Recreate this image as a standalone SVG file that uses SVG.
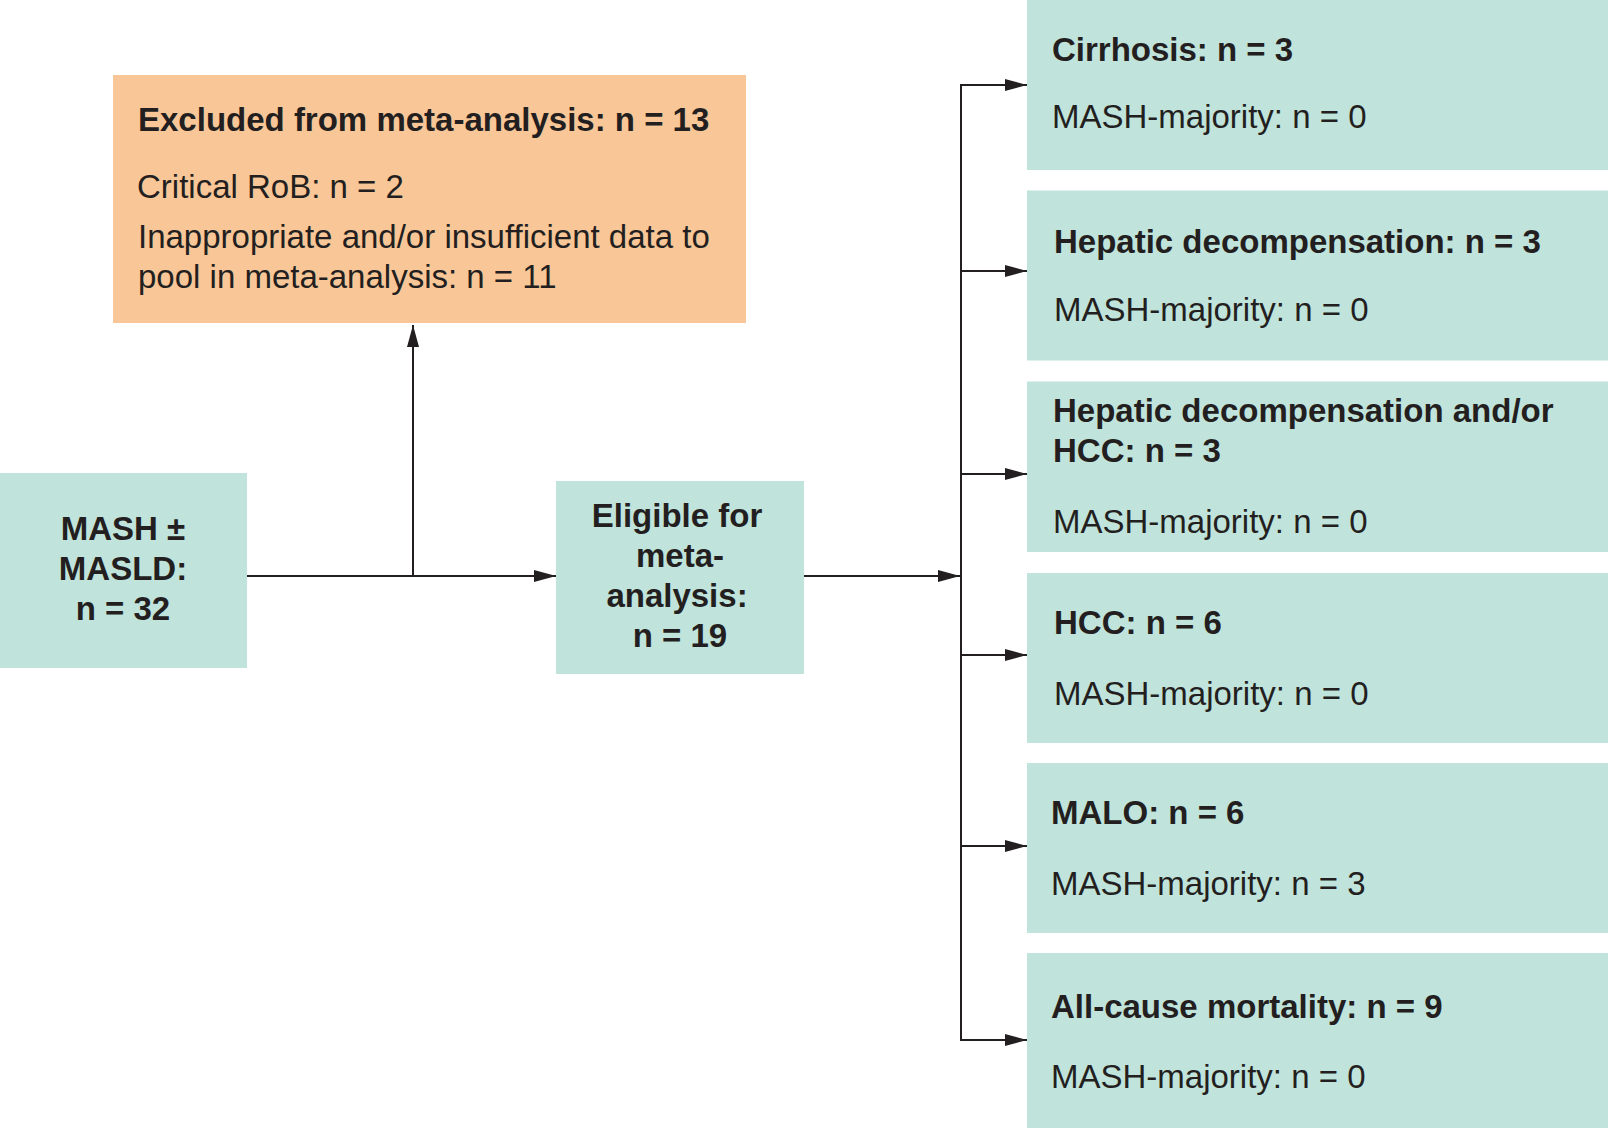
<svg xmlns="http://www.w3.org/2000/svg" width="1608" height="1128" viewBox="0 0 1608 1128">
<style>
.teal{fill:#c0e3dc}
.orange{fill:#f8c697}
text{font-family:"Liberation Sans",Arial,sans-serif;font-size:33px;fill:#231f20}
.b{font-weight:bold}
.c{text-anchor:middle}
.conn{stroke:#231f20;stroke-width:2;fill:none}
</style>
<defs>
<marker id="arr" markerUnits="userSpaceOnUse" markerWidth="22" markerHeight="12" refX="22" refY="6" orient="auto">
<path d="M0,0 L22,6 L0,12 z" fill="#231f20"/>
</marker>
</defs>
<rect width="1608" height="1128" fill="#ffffff"/>

<g id="connectors">
<line class="conn" x1="247" y1="576" x2="556" y2="576" marker-end="url(#arr)"/>
<line class="conn" x1="413" y1="577" x2="413" y2="325" marker-end="url(#arr)"/>
<line class="conn" x1="804" y1="576" x2="960" y2="576" marker-end="url(#arr)"/>
<line class="conn" x1="961" y1="84" x2="961" y2="1041"/>
<line class="conn" x1="960" y1="85" x2="1027" y2="85" marker-end="url(#arr)"/>
<line class="conn" x1="960" y1="271" x2="1027" y2="271" marker-end="url(#arr)"/>
<line class="conn" x1="960" y1="474" x2="1027" y2="474" marker-end="url(#arr)"/>
<line class="conn" x1="960" y1="655" x2="1027" y2="655" marker-end="url(#arr)"/>
<line class="conn" x1="960" y1="846" x2="1027" y2="846" marker-end="url(#arr)"/>
<line class="conn" x1="960" y1="1040" x2="1027" y2="1040" marker-end="url(#arr)"/>
</g>

<g id="excluded">
<rect class="orange" x="113" y="75" width="633" height="248"/>
<text class="b" x="138" y="131">Excluded from meta-analysis: n = 13</text>
<text x="137" y="198">Critical RoB: n = 2</text>
<text x="138" y="248">Inappropriate and/or insufficient data to</text>
<text x="138" y="288">pool in meta-analysis: n = 11</text>
</g>

<g id="mash">
<rect class="teal" x="0" y="473" width="247" height="195"/>
<text class="b c" x="123" y="540">MASH ±</text>
<text class="b c" x="123" y="580">MASLD:</text>
<text class="b c" x="123" y="620">n = 32</text>
</g>

<g id="eligible">
<rect class="teal" x="556" y="481" width="248" height="193"/>
<text class="b c" x="677" y="527">Eligible for</text>
<text class="b c" x="680" y="567">meta-</text>
<text class="b c" x="677" y="607">analysis:</text>
<text class="b c" x="680" y="647">n = 19</text>
</g>

<g id="cirrhosis">
<rect class="teal" x="1027" y="0" width="581" height="170"/>
<text class="b" x="1052" y="61">Cirrhosis: n = 3</text>
<text x="1052" y="128">MASH-majority: n = 0</text>
</g>

<g id="hepatic-decomp">
<rect class="teal" x="1027" y="190.5" width="581" height="170"/>
<text class="b" x="1054" y="253">Hepatic decompensation: n = 3</text>
<text x="1054" y="321">MASH-majority: n = 0</text>
</g>

<g id="hepatic-decomp-hcc">
<rect class="teal" x="1027" y="381.5" width="581" height="170.5"/>
<text class="b" x="1053" y="422">Hepatic decompensation and/or</text>
<text class="b" x="1053" y="462">HCC: n = 3</text>
<text x="1053" y="533">MASH-majority: n = 0</text>
</g>

<g id="hcc">
<rect class="teal" x="1027" y="573" width="581" height="170"/>
<text class="b" x="1054" y="634">HCC: n = 6</text>
<text x="1054" y="705">MASH-majority: n = 0</text>
</g>

<g id="malo">
<rect class="teal" x="1027" y="763" width="581" height="170"/>
<text class="b" x="1051" y="824">MALO: n = 6</text>
<text x="1051" y="895">MASH-majority: n = 3</text>
</g>

<g id="mortality">
<rect class="teal" x="1027" y="953" width="581" height="175"/>
<text class="b" x="1051" y="1018">All-cause mortality: n = 9</text>
<text x="1051" y="1088">MASH-majority: n = 0</text>
</g>
</svg>
